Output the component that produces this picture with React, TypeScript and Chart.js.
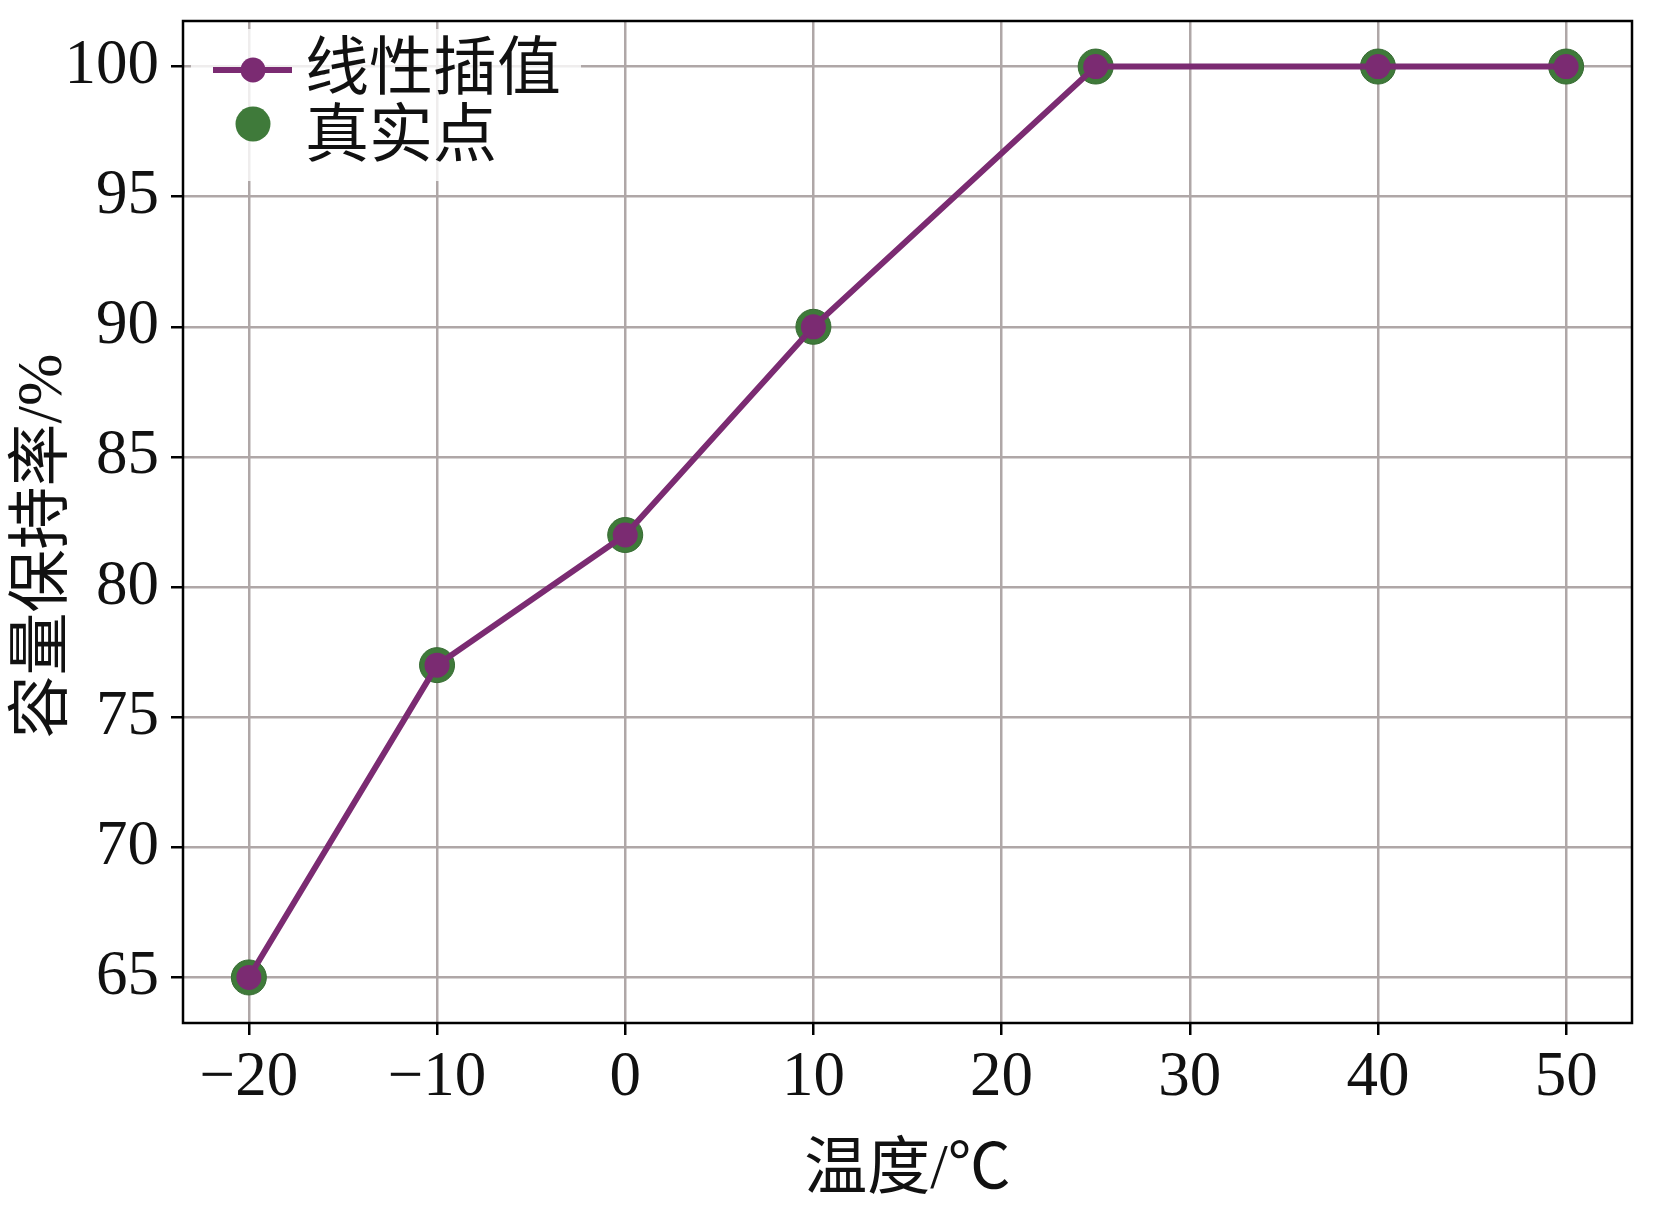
import React, { useEffect, useRef } from "react";
import { Chart, registerables } from "chart.js";

Chart.register(...registerables);

// ---- data ----
const temperatures = [-20, -10, 0, 10, 25, 40, 50];
const retention = [65, 77, 82, 90, 100, 100, 100];
const xTickValues = [-20, -10, 0, 10, 20, 30, 40, 50];
const xTickLabels = ["−20", "−10", "0", "10", "20", "30", "40", "50"];
const yTickValues = [65, 70, 75, 80, 85, 90, 95, 100];
const yTickLabels = ["65", "70", "75", "80", "85", "90", "95", "100"];
const seriesNames = ["线性插值", "真实点"];
const xTitle = "温度/℃";
const yTitle = "容量保持率/%";

const PURPLE = "#7b2b72";
const GREEN = "#3f7a3a";
const GRID = "#afa7a7";
const FONT = "'Liberation Serif', 'Noto Sans CJK SC', serif";

const W = 1654;
const H = 1205;

const framePlugin = {
  id: "frameAndLegend",
  afterDraw(chart: any) {
    const { ctx, chartArea: a } = chart;
    ctx.save();
    // frame
    ctx.strokeStyle = "#000";
    ctx.lineWidth = 2.5;
    ctx.strokeRect(a.left, a.top, a.right - a.left, a.bottom - a.top);

    // legend box (semi-transparent white)
    const bx = a.left + 8;
    const by = a.top + 8;
    ctx.fillStyle = "rgba(255,255,255,0.8)";
    ctx.fillRect(bx, by, 390, 152);

    // row 1: line + marker
    const y1 = a.top + 49;
    ctx.strokeStyle = PURPLE;
    ctx.lineWidth = 6;
    ctx.beginPath();
    ctx.moveTo(a.left + 30, y1);
    ctx.lineTo(a.left + 109, y1);
    ctx.stroke();
    ctx.fillStyle = PURPLE;
    ctx.beginPath();
    ctx.arc(a.left + 70, y1, 12.5, 0, Math.PI * 2);
    ctx.fill();

    // row 2: green dot
    const y2 = a.top + 103;
    ctx.fillStyle = GREEN;
    ctx.beginPath();
    ctx.arc(a.left + 70, y2, 17.5, 0, Math.PI * 2);
    ctx.fill();

    ctx.fillStyle = "#111";
    ctx.font = `64px ${FONT}`;
    ctx.textBaseline = "middle";
    ctx.textAlign = "left";
    ctx.fillText(seriesNames[0], a.left + 122, a.top + 51);
    ctx.fillText(seriesNames[1], a.left + 122, a.top + 118);

    // y-axis title (rotated)
    ctx.translate(44, 546);
    ctx.rotate(-Math.PI / 2);
    ctx.textAlign = "center";
    ctx.font = `63px ${FONT}`;
    ctx.fillText(yTitle, 0, 0);
    ctx.restore();
  },
};

export default function App() {
  const ref = useRef<HTMLCanvasElement>(null);

  useEffect(() => {
    const canvas = ref.current;
    if (!canvas) return;
    const chart = new Chart(canvas, {
      type: "line",
      data: {
        datasets: [
          {
            label: seriesNames[0],
            data: temperatures.map((t, i) => ({ x: t, y: retention[i] })),
            borderColor: PURPLE,
            borderWidth: 6,
            pointRadius: 12.5,
            pointBackgroundColor: PURPLE,
            pointBorderWidth: 0,
            fill: false,
            tension: 0,
          },
          {
            label: seriesNames[1],
            data: temperatures.map((t, i) => ({ x: t, y: retention[i] })),
            showLine: false,
            pointRadius: 17.5,
            pointBackgroundColor: GREEN,
            pointBorderColor: "#356a31",
            pointBorderWidth: 1,
          },
        ],
      },
      options: {
        responsive: false,
        animation: false,
        devicePixelRatio: 1,
        layout: { padding: { top: 21, right: 22, left: 0, bottom: 0 } },
        plugins: {
          legend: { display: false },
          tooltip: { enabled: false },
        },
        scales: {
          x: {
            type: "linear",
            min: -23.5,
            max: 53.5,
            afterBuildTicks: (s: any) => {
              s.ticks = xTickValues.map((v) => ({ value: v }));
            },
            afterFit: (s: any) => {
              s.height = H - 1023;
              s.paddingLeft = 0;
              s.paddingRight = 0;
            },
            ticks: {
              callback: (v: any) => {
                const i = xTickValues.indexOf(Number(v));
                return i >= 0 ? xTickLabels[i] : "";
              },
              font: { family: FONT, size: 63 },
              color: "#111",
              padding: 6,
              maxRotation: 0,
              autoSkip: false,
            },
            grid: {
              color: GRID,
              lineWidth: 2.5,
              tickColor: "#000",
              tickLength: 12,
              tickWidth: 2.5,
            },
            border: { display: false },
            title: {
              display: true,
              text: xTitle,
              font: { family: FONT, size: 63, lineHeight: 1.05 },
              color: "#111",
              padding: { top: 0, bottom: 0 },
            },
          },
          y: {
            type: "linear",
            min: 63.25,
            max: 101.75,
            afterBuildTicks: (s: any) => {
              s.ticks = yTickValues.map((v) => ({ value: v }));
            },
            afterFit: (s: any) => {
              s.width = 183;
              s.paddingTop = 0;
              s.paddingBottom = 0;
            },
            ticks: {
              callback: (v: any) => {
                const i = yTickValues.indexOf(Number(v));
                return i >= 0 ? yTickLabels[i] : "";
              },
              font: { family: FONT, size: 63 },
              color: "#111",
              padding: 12,
              autoSkip: false,
            },
            grid: {
              color: GRID,
              lineWidth: 2.5,
              tickColor: "#000",
              tickLength: 12,
              tickWidth: 2.5,
            },
            border: { display: false },
          },
        },
      },
      plugins: [framePlugin],
    });
    return () => chart.destroy();
  }, []);

  return (
    <div style={{ position: "fixed", left: 0, top: 0, width: W, height: H, background: "#fff" }}>
      <canvas ref={ref} width={W} height={H} style={{ width: W, height: H, display: "block" }} />
    </div>
  );
}
